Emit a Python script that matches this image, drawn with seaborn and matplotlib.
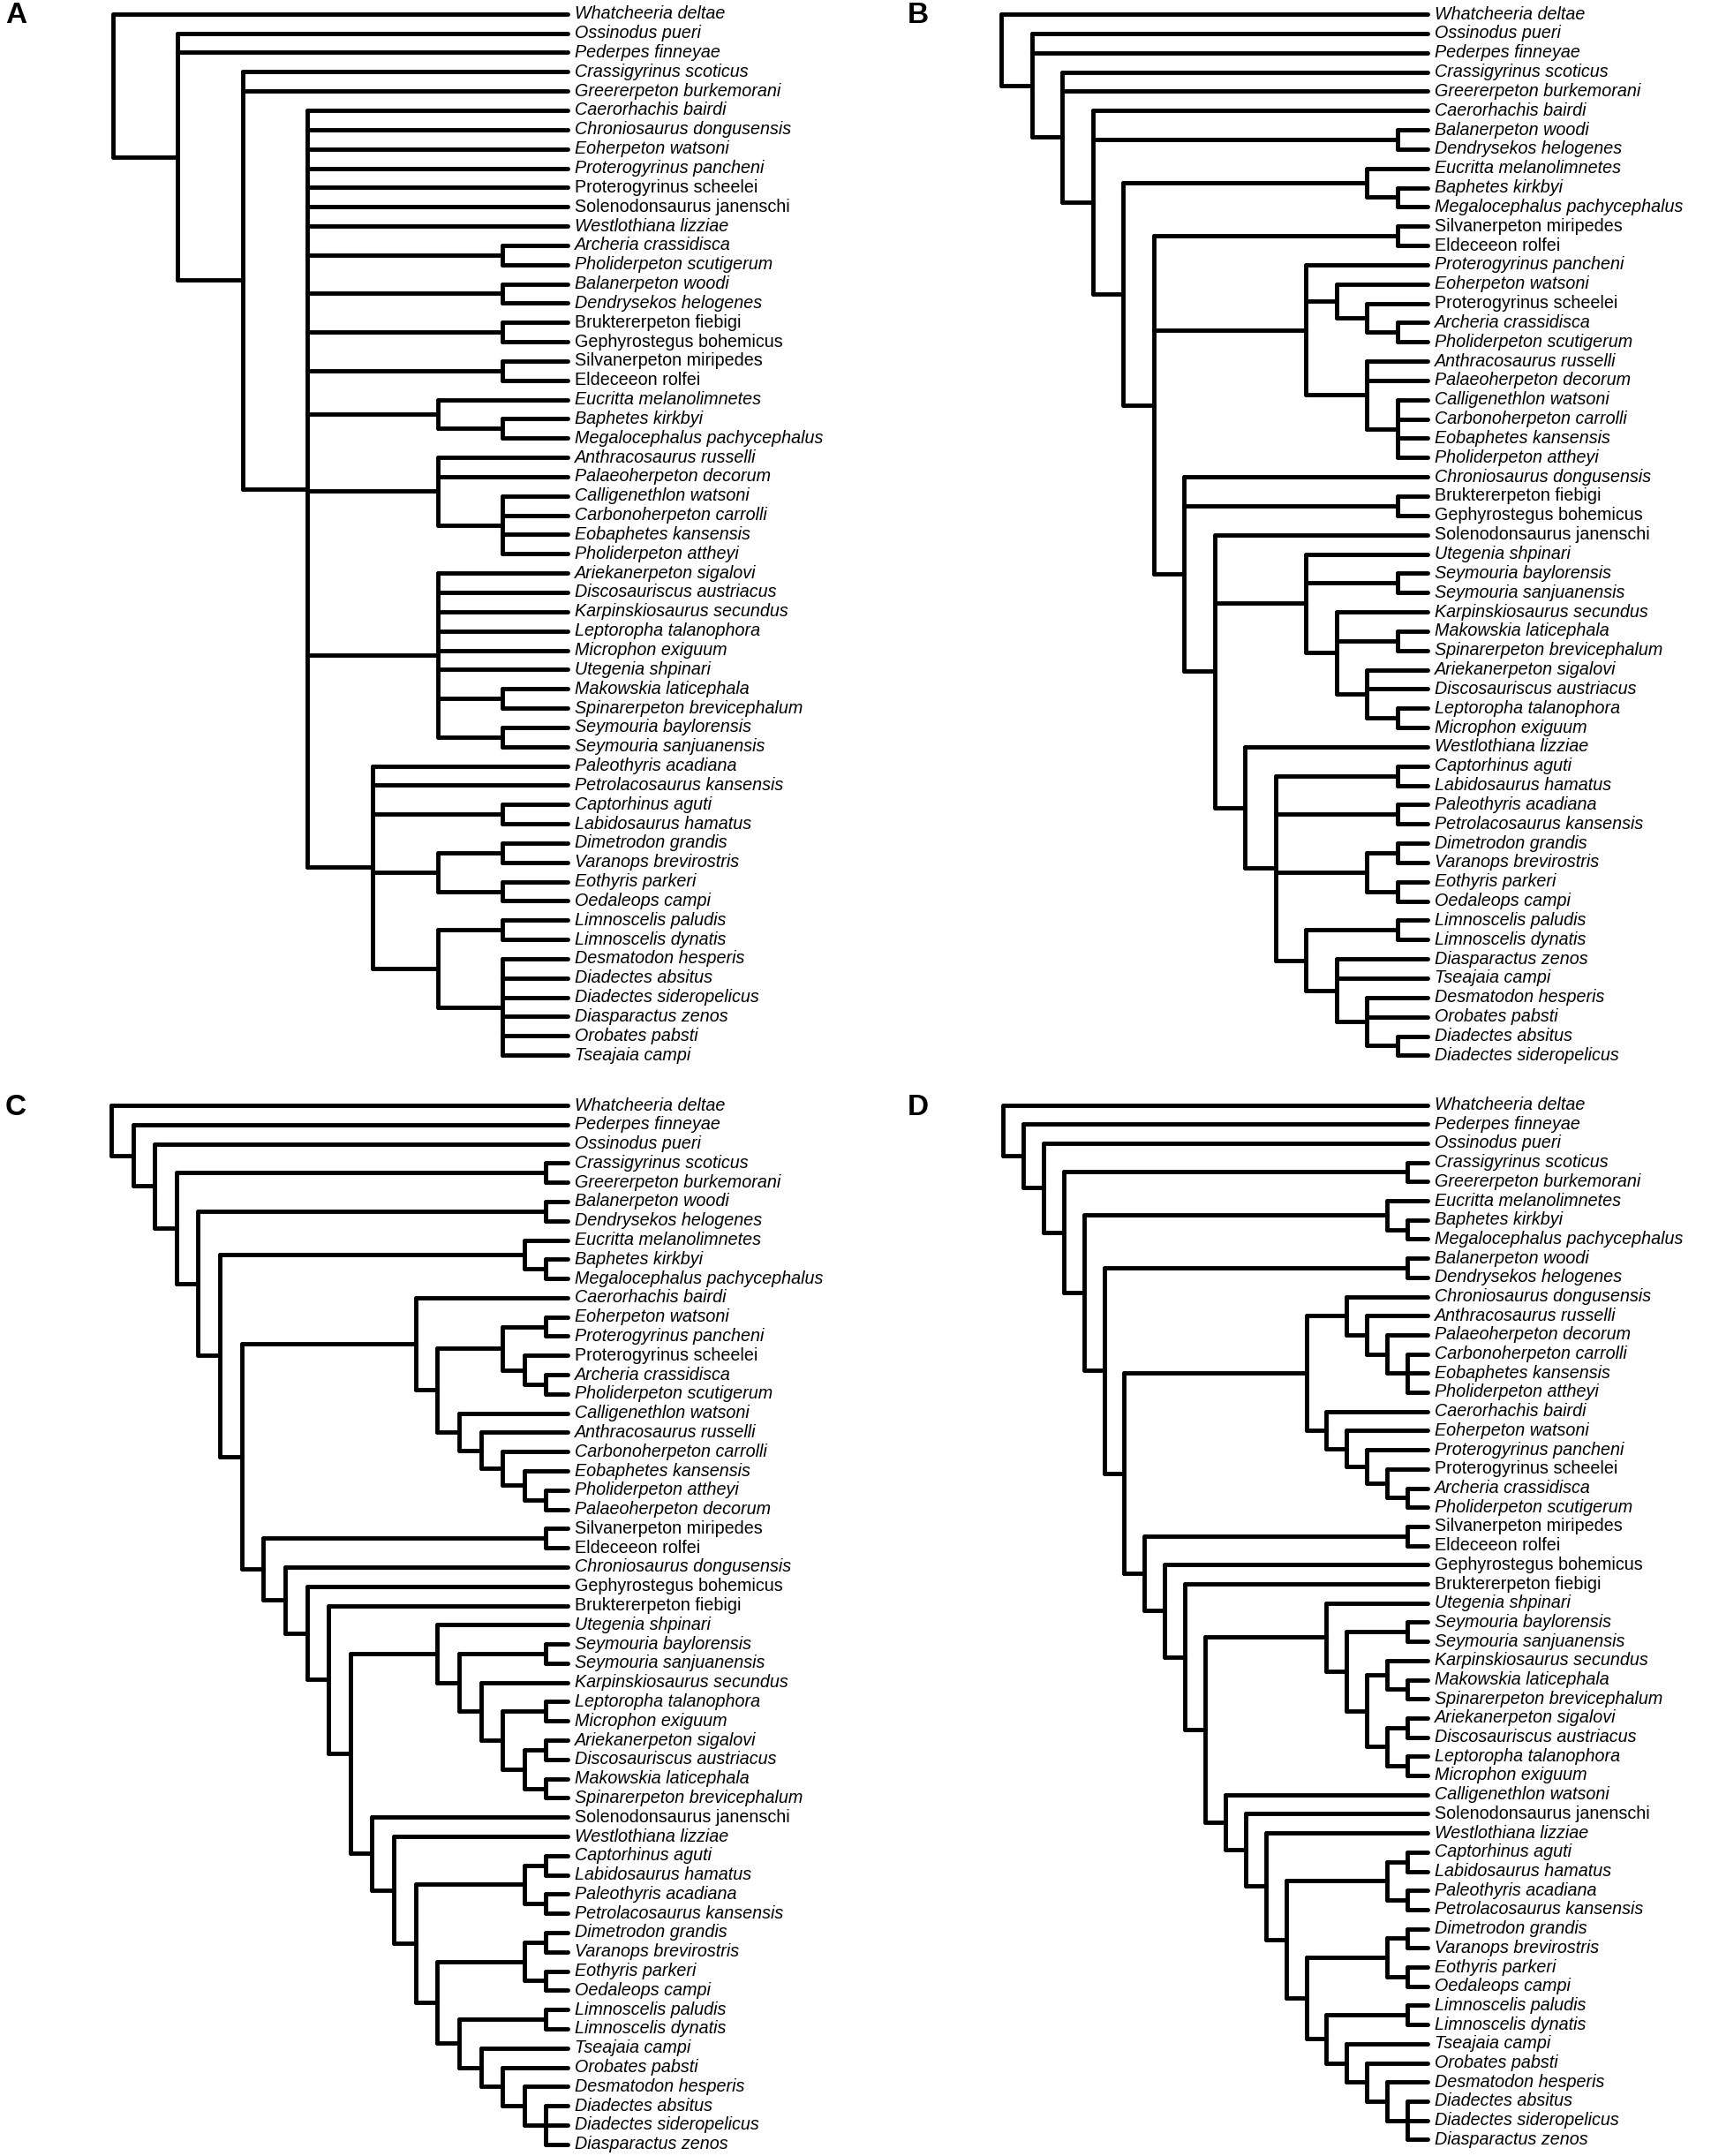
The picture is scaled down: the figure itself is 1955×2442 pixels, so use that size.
import matplotlib
matplotlib.use("Agg")
import matplotlib.pyplot as plt
import matplotlib.transforms as mtransforms
import pandas as pd
import seaborn as sns

# ------------------------------------------------------------------ data
SPECIES = {
    "Whatch": "Whatcheeria deltae", "Ossin": "Ossinodus pueri",
    "Peder": "Pederpes finneyae", "Crass": "Crassigyrinus scoticus",
    "Greer": "Greererpeton burkemorani", "Caer": "Caerorhachis bairdi",
    "Chron": "Chroniosaurus dongusensis", "Eoher": "Eoherpeton watsoni",
    "Ppanch": "Proterogyrinus pancheni", "Pscheel": "Proterogyrinus scheelei",
    "Solen": "Solenodonsaurus janenschi", "Westlo": "Westlothiana lizziae",
    "Arch": "Archeria crassidisca", "PholS": "Pholiderpeton scutigerum",
    "Balan": "Balanerpeton woodi", "Dendry": "Dendrysekos helogenes",
    "Brukt": "Bruktererpeton fiebigi", "Gephy": "Gephyrostegus bohemicus",
    "Silv": "Silvanerpeton miripedes", "Eld": "Eldeceeon rolfei",
    "Eucr": "Eucritta melanolimnetes", "Baph": "Baphetes kirkbyi",
    "Megal": "Megalocephalus pachycephalus", "Anthr": "Anthracosaurus russelli",
    "Palaeo": "Palaeoherpeton decorum", "Callig": "Calligenethlon watsoni",
    "Carbon": "Carbonoherpeton carrolli", "Eobaph": "Eobaphetes kansensis",
    "PholA": "Pholiderpeton attheyi", "Ariek": "Ariekanerpeton sigalovi",
    "Disc": "Discosauriscus austriacus", "Karp": "Karpinskiosaurus secundus",
    "Lepto": "Leptoropha talanophora", "Micro": "Microphon exiguum",
    "Uteg": "Utegenia shpinari", "Makow": "Makowskia laticephala",
    "Spin": "Spinarerpeton brevicephalum", "SeyB": "Seymouria baylorensis",
    "SeyS": "Seymouria sanjuanensis", "Paleo": "Paleothyris acadiana",
    "Petrol": "Petrolacosaurus kansensis", "Captor": "Captorhinus aguti",
    "Labido": "Labidosaurus hamatus", "Dimet": "Dimetrodon grandis",
    "Varan": "Varanops brevirostris", "Eothy": "Eothyris parkeri",
    "Oedal": "Oedaleops campi", "LimP": "Limnoscelis paludis",
    "LimD": "Limnoscelis dynatis", "Desmat": "Desmatodon hesperis",
    "DiadA": "Diadectes absitus", "DiadS": "Diadectes sideropelicus",
    "Diasp": "Diasparactus zenos", "Orob": "Orobates pabsti",
    "Tseaj": "Tseajaia campi",
}
# labels set in upright (non-italic) type
UPRIGHT = ["Pscheel", "Solen", "Brukt", "Gephy", "Silv", "Eld"]

# ---- panel A (clades in Newick; backbone given as ladder levels)
A_CORE = ("(Caer,Chron,Eoher,Ppanch,Pscheel,Solen,Westlo,(Arch,PholS),"
          "(Balan,Dendry),(Brukt,Gephy),(Silv,Eld),(Eucr,(Baph,Megal)),"
          "(Anthr,Palaeo,(Callig,Carbon,Eobaph,PholA)),"
          "(Ariek,Disc,Karp,Lepto,Micro,Uteg,(Makow,Spin),(SeyB,SeyS)),"
          "(Paleo,Petrol,(Captor,Labido),((Dimet,Varan),(Eothy,Oedal)),"
          "((LimP,LimD),(Desmat,DiadA,DiadS,Diasp,Orob,Tseaj))))")
A_LEVELS = [["Whatch"], ["Ossin", "Peder"], ["Crass", "Greer"]]

# ---- panel B
B_ANTH = ("(Ppanch,(Eoher,(Pscheel,(Arch,PholS))),"
          "(Anthr,Palaeo,(Callig,Carbon,Eobaph,PholA)))")
B_SEYM = "(Uteg,(SeyB,SeyS),(Karp,(Makow,Spin),(Ariek,Disc,(Lepto,Micro))))"
B_AMNI = ("((Captor,Labido),(Paleo,Petrol),((Dimet,Varan),(Eothy,Oedal)),"
          "((LimP,LimD),(Diasp,Tseaj,(Desmat,Orob,(DiadA,DiadS)))))")
B_LEVELS = [["Whatch"], ["Ossin", "Peder"], ["Crass", "Greer"],
            ["Caer", "(Balan,Dendry)"], ["(Eucr,(Baph,Megal))"],
            ["(Silv,Eld)", B_ANTH], ["Chron", "(Brukt,Gephy)"],
            ["Solen", B_SEYM], ["Westlo"]]

# ---- panels C and D
CD_AMNI = ("(((Captor,Labido),(Paleo,Petrol)),(((Dimet,Varan),(Eothy,Oedal)),"
           "((LimP,LimD),(Tseaj,(Orob,(Desmat,(DiadA,DiadS,Diasp)))))))")
C_ANTH = ("(Caer,(((Eoher,Ppanch),(Pscheel,(Arch,PholS))),"
          "(Callig,(Anthr,(Carbon,(Eobaph,(PholA,Palaeo)))))))")
C_SEYM = "(Uteg,((SeyB,SeyS),(Karp,((Lepto,Micro),((Ariek,Disc),(Makow,Spin))))))"
C_LEVELS = [["Whatch"], ["Peder"], ["Ossin"], ["(Crass,Greer)"],
            ["(Balan,Dendry)"], ["(Eucr,(Baph,Megal))"], [C_ANTH],
            ["(Silv,Eld)"], ["Chron"], ["Gephy"], ["Brukt"], [C_SEYM],
            ["Solen"], ["Westlo"]]

D_ANTH = ("((Chron,(Anthr,(Palaeo,(Carbon,Eobaph,PholA)))),"
          "(Caer,(Eoher,(Ppanch,(Pscheel,(Arch,PholS))))))")
D_SEYM = "(Uteg,((SeyB,SeyS),((Karp,(Makow,Spin)),((Ariek,Disc),(Lepto,Micro)))))"
D_LEVELS = [["Whatch"], ["Peder"], ["Ossin"], ["(Crass,Greer)"],
            ["(Eucr,(Baph,Megal))"], ["(Balan,Dendry)"], [D_ANTH],
            ["(Silv,Eld)"], ["Gephy"], ["Brukt"], [D_SEYM], ["Callig"],
            ["Solen"], ["Westlo"]]

PANELS = ["A", "B", "C", "D"]


# ------------------------------------------------------------------ tree helpers
def ladder(levels, last):
    s = last
    for sibs in reversed(levels):
        s = "(" + ",".join(list(sibs) + [s]) + ")"
    return s


def parse(newick):
    pos = 0

    def node():
        nonlocal pos
        if newick[pos] == "(":
            pos += 1
            kids = [node()]
            while newick[pos] == ",":
                pos += 1
                kids.append(node())
            assert newick[pos] == ")"
            pos += 1
            return {"kids": kids}
        start = pos
        while newick[pos] not in ",()":
            pos += 1
        return {"tip": newick[start:pos]}

    return node()


def layout(root):
    tips = []

    def walk(n):
        if "tip" in n:
            n["y"] = len(tips)
            n["h"] = 0
            tips.append(n["tip"])
        else:
            for k in n["kids"]:
                walk(k)
            n["h"] = 1 + max(k["h"] for k in n["kids"])
            n["y"] = (n["kids"][0]["y"] + n["kids"][-1]["y"]) / 2.0

    walk(root)
    H = root["h"]
    rows = []
    sid = 0

    def segs(n):
        nonlocal sid
        if "kids" not in n:
            return
        x = H - n["h"]
        rows.append((sid, x, n["kids"][0]["y"]))
        rows.append((sid, x, n["kids"][-1]["y"]))
        sid += 1
        for k in n["kids"]:
            rows.append((sid, x, k["y"]))
            rows.append((sid, H - k["h"], k["y"]))
            sid += 1
            segs(k)

    segs(root)
    return pd.DataFrame(rows, columns=["seg", "x", "y"]), tips, H


TREES = {
    "A": ladder(A_LEVELS, A_CORE),
    "B": ladder(B_LEVELS, B_AMNI),
    "C": ladder(C_LEVELS, CD_AMNI),
    "D": ladder(D_LEVELS, CD_AMNI),
}

# ------------------------------------------------------------------ layout (pixels)
W, HH = 1955, 2442
GEOM = {  # root x, tip x, first row y, row step
    "A": (127.5, 643, 15.8, 21.84),
    "B": (1134, 1617, 16.0, 21.84),
    "C": (126, 643, 1252.0, 21.79),
    "D": (1136, 1617, 1251.5, 21.70),
}
LETTER_POS = {"A": (6, 17), "B": (1028, 17), "C": (6, 1255), "D": (1028, 1255)}

sns.set_theme(style="white")
plt.rcParams["font.family"] = ["Liberation Sans", "DejaVu Sans"]

fig = plt.figure(figsize=(W / 100, HH / 100), dpi=100)
fig.patch.set_facecolor("white")

for p in PANELS:
    df, tips, H = layout(parse(TREES[p]))
    n = len(tips)
    x0, x1, y0, dy = GEOM[p]
    ybot = y0 + (n - 1) * dy
    ax = fig.add_axes([x0 / W, 1 - ybot / HH, (x1 - x0) / W, (ybot - y0) / HH])
    sns.lineplot(data=df, x="x", y="y", units="seg", estimator=None,
                 sort=False, color="black", linewidth=3.5, ax=ax, legend=False)
    for ln in ax.get_lines():
        ln.set_solid_capstyle("round")
        ln.set_clip_on(False)
    ax.set_xlim(0, H)
    ax.set_ylim(n - 1, 0)
    ax.axis("off")
    off = mtransforms.ScaledTranslation(8 / 100, 0, fig.dpi_scale_trans)
    for i, code in enumerate(tips):
        ax.text(H, i, SPECIES[code], transform=ax.transData + off,
                ha="left", va="center", fontsize=14.2, color="black",
                style="normal" if code in UPRIGHT else "italic")
    lx, ly = LETTER_POS[p]
    fig.text(lx / W, 1 - ly / HH, p, fontsize=24, fontweight="bold",
             ha="left", va="center", color="black")

fig.savefig("out.png", dpi=100, facecolor="white")
